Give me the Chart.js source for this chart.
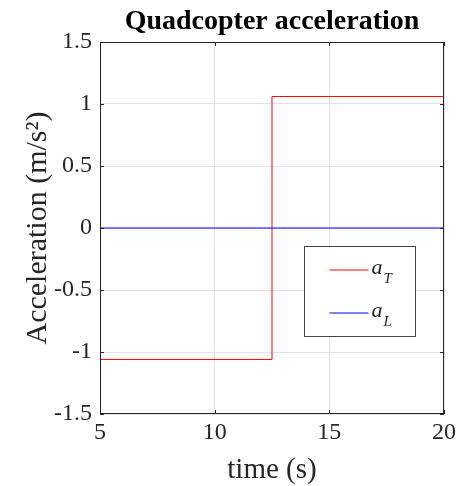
<!DOCTYPE html>
<html>
<head>
<meta charset="utf-8">
<script src="https://cdn.jsdelivr.net/npm/chart.js@4.4.0/dist/chart.umd.min.js"></script>
<style>
  html, body { margin: 0; padding: 0; background: #fff; }
  #wrap { width: 457px; height: 486px; }
</style>
</head>
<body>
<div id="wrap"><canvas id="accChart" width="457" height="486"></canvas></div>
<script>
// step in thrust acceleration at t = 12.5 s, lateral stays at zero
const timeT = [5, 12.5, 12.5, 20];
const accelT = [-1.06, -1.06, 1.06, 1.06];
const timeL = [5, 20];
const accelL = [0, 0];

const xTicks = [5, 10, 15, 20];
const yTicks = [-1.5, -1, -0.5, 0, 0.5, 1, 1.5];

const legendNames = ["a", "a"];
const legendSubs = ["T", "L"];
const lineColors = ["#ff0000", "#0000ff"];

const serif = "'Liberation Serif', 'Times New Roman', serif";
const ink = "#262626";

// box around the axes + small inward tick marks (matlab look)
const framePlugin = {
  id: "frame",
  afterDatasetsDraw(chart) {
    const { ctx, chartArea: a, scales } = chart;
    const len = 4;
    ctx.save();
    ctx.strokeStyle = ink;
    ctx.lineWidth = 1;
    ctx.strokeRect(a.left + 0.5, a.top + 0.5, a.width - 1, a.height - 1);
    ctx.beginPath();
    xTicks.forEach((v) => {
      const x = Math.round(scales.x.getPixelForValue(v)) + 0.5;
      ctx.moveTo(x, a.bottom); ctx.lineTo(x, a.bottom - len);
      ctx.moveTo(x, a.top); ctx.lineTo(x, a.top + len);
    });
    yTicks.forEach((v) => {
      const y = Math.round(scales.y.getPixelForValue(v)) + 0.5;
      ctx.moveTo(a.left, y); ctx.lineTo(a.left + len, y);
      ctx.moveTo(a.right, y); ctx.lineTo(a.right - len, y);
    });
    ctx.stroke();
    ctx.restore();
  },
};

const legendPlugin = {
  id: "boxLegend",
  afterDraw(chart) {
    const { ctx, chartArea: a } = chart;
    const bx = Math.round(a.right - 140) + 0.5;
    const by = Math.round(a.top + 204) + 0.5;
    const bw = 111, bh = 90;
    ctx.save();
    ctx.fillStyle = "#fff";
    ctx.fillRect(bx, by, bw, bh);
    ctx.strokeStyle = "#444";
    ctx.lineWidth = 1;
    ctx.strokeRect(bx, by, bw, bh);
    const rows = [23, 66];
    rows.forEach((dy, i) => {
      const y = Math.round(by + dy);
      ctx.strokeStyle = lineColors[i];
      ctx.beginPath();
      ctx.moveTo(bx + 25, y);
      ctx.lineTo(bx + 64, y);
      ctx.stroke();
      ctx.fillStyle = ink;
      ctx.textBaseline = "alphabetic";
      ctx.font = "italic 22px " + serif;
      ctx.fillText(legendNames[i], bx + 67, y + 4);
      const w = ctx.measureText(legendNames[i]).width;
      ctx.font = "italic 15px " + serif;
      ctx.fillText(legendSubs[i], bx + 68 + w, y + 13);
    });
    ctx.restore();
  },
};

const ctx = document.getElementById("accChart").getContext("2d");
new Chart(ctx, {
  type: "line",
  data: {
    datasets: [
      {
        label: "a_T",
        data: timeT.map((t, i) => ({ x: t, y: accelT[i] })),
        borderColor: lineColors[0],
        borderWidth: 1,
        pointRadius: 0,
        tension: 0,
        order: 2,
      },
      {
        label: "a_L",
        data: timeL.map((t, i) => ({ x: t, y: accelL[i] })),
        borderColor: lineColors[1],
        borderWidth: 1,
        pointRadius: 0,
        tension: 0,
        order: 1,
      },
    ],
  },
  options: {
    responsive: false,
    animation: false,
    devicePixelRatio: 1,
    layout: { padding: { left: 0, right: 13, top: 0, bottom: 0 } },
    plugins: {
      legend: { display: false },
      tooltip: { enabled: false },
      title: {
        display: true,
        fullSize: false,
        text: "Quadcopter acceleration",
        color: "#000",
        font: { family: serif, size: 28, weight: "bold", lineHeight: 1.2 },
        padding: { top: 5, bottom: 3.4 },
      },
    },
    scales: {
      x: {
        type: "linear",
        min: 5,
        max: 20,
        afterBuildTicks: (s) => { s.ticks = xTicks.map((v) => ({ value: v })); },
        afterFit: (s) => { s.height = 72; s.paddingLeft = 0; s.paddingRight = 0; },
        ticks: { color: ink, font: { family: serif, size: 24 }, padding: 4, maxRotation: 0 },
        grid: { color: "#e3e3e3", drawTicks: false },
        border: { display: false },
        title: {
          display: true,
          text: "time (s)",
          color: ink,
          font: { family: serif, size: 29, lineHeight: 1.1 },
          padding: { top: 0, bottom: 0 },
        },
      },
      y: {
        type: "linear",
        min: -1.5,
        max: 1.5,
        afterBuildTicks: (s) => { s.ticks = yTicks.map((v) => ({ value: v })); },
        afterFit: (s) => { s.width = 100; s.paddingTop = 0; s.paddingBottom = 0; },
        ticks: {
          color: ink,
          font: { family: serif, size: 24 },
          padding: 8,
          callback: (v) => String(v),
        },
        grid: { color: "#e3e3e3", drawTicks: false },
        border: { display: false },
        title: {
          display: true,
          text: "Acceleration (m/s²)",
          color: ink,
          font: { family: serif, size: 30, lineHeight: 1.2 },
          padding: { top: 20, bottom: 0 },
        },
      },
    },
  },
  plugins: [framePlugin, legendPlugin],
});
</script>
</body>
</html>
